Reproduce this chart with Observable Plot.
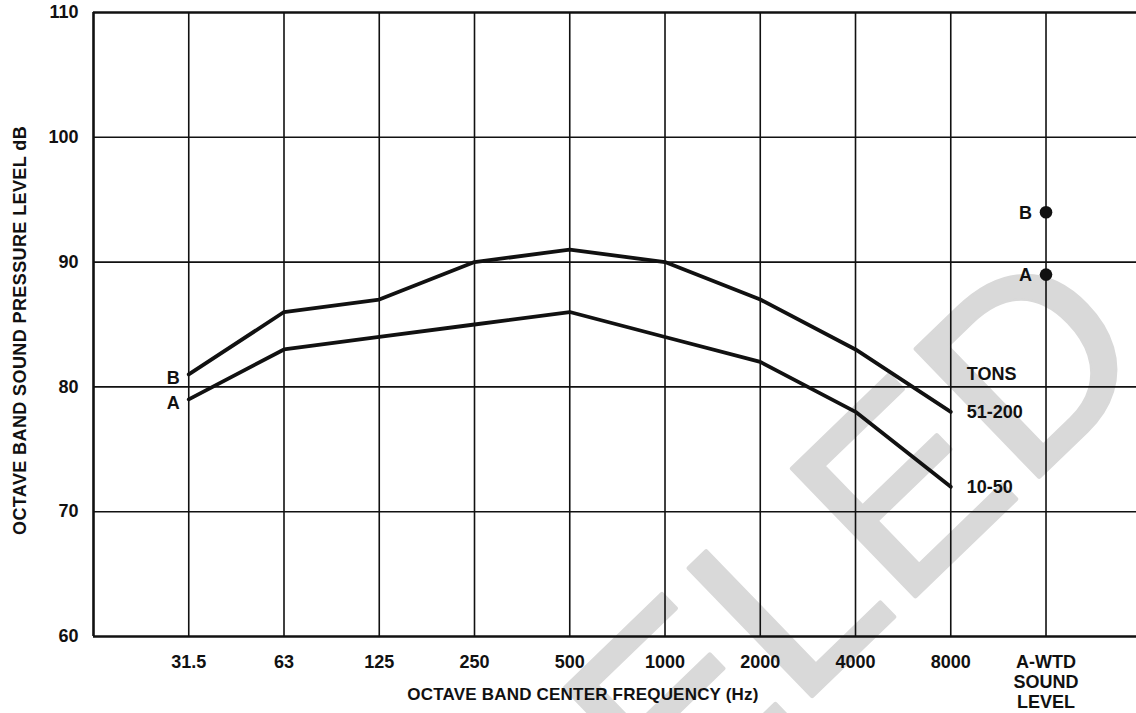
<!DOCTYPE html>
<html>
<head>
<meta charset="utf-8">
<script src="https://cdn.jsdelivr.net/npm/d3@7"></script>
<script src="https://cdn.jsdelivr.net/npm/@observablehq/plot@0.6"></script>
<style>
  html, body { margin: 0; padding: 0; background: #fff; overflow: hidden; }
</style>
</head>
<body>
<div id="chart"></div>
<script>
// ---- data ----
const bandLabels = ["31.5", "63", "125", "250", "500", "1000", "2000", "4000", "8000", "A-WTD\nSOUND\nLEVEL"];
const seriesCodes = ["B", "A"];
const seriesTons = ["51-200", "10-50"];
const levelsB = [81, 86, 87, 90, 91, 90, 87, 83, 78];   // 51-200 tons
const levelsA = [79, 83, 84, 85, 86, 84, 82, 78, 72];   // 10-50 tons
const awtdLevels = [94, 89];                             // B, A
const yTicks = [60, 70, 80, 90, 100, 110];
const tonsHeader = "TONS";
const xTitle = "OCTAVE BAND CENTER FREQUENCY (Hz)";
const yTitle = "OCTAVE BAND SOUND PRESSURE LEVEL dB";
const watermark = "CANCELED";

// ---- build tables ----
const seriesValues = [levelsB, levelsA];
const rows = [];
seriesValues.forEach((vals, s) => vals.forEach((v, i) => rows.push({code: seriesCodes[s], tons: seriesTons[s], i, v})));
const startRows = seriesValues.map((vals, s) => ({code: seriesCodes[s], i: 0, v: vals[0]}));
const endRows = seriesValues.map((vals, s) => ({tons: seriesTons[s], i: vals.length - 1, v: vals[vals.length - 1]}));
const awtdIndex = bandLabels.length - 1;
const awtdRows = awtdLevels.map((v, s) => ({code: seriesCodes[s], i: awtdIndex, v}));
const headerRow = [{text: tonsHeader, i: levelsB.length - 1, v: levelsB[levelsB.length - 1] + 3}];
const bandIdx = d3.range(bandLabels.length);

const ink = "#111";
const font = "Liberation Sans, Arial, Helvetica, sans-serif";

const chart = Plot.plot({
  width: 1136,
  height: 713,
  marginLeft: 93,
  marginRight: 0,
  marginTop: 12,
  marginBottom: 77,
  style: {fontFamily: font, background: "#fff", overflow: "hidden", color: ink},
  x: {type: "linear", domain: [-1, 9.95], axis: null},
  y: {domain: [60, 110], axis: null},
  marks: [
    // watermark behind everything
    Plot.text([watermark], {x: awtdIndex, y: 82, dx: 112, text: d => d, textAnchor: "end", lineAnchor: "bottom",
      rotate: -44, fontSize: 258, fill: "#d9d9d9", stroke: "#d9d9d9", strokeWidth: 4.5, fontFamily: font}),
    // grid
    Plot.ruleX(bandIdx, {stroke: ink, strokeWidth: 1.6}),
    Plot.ruleY(yTicks.slice(1, -1), {stroke: ink, strokeWidth: 1.6}),
    // frame (left, bottom, top)
    Plot.ruleY([yTicks[0], yTicks[yTicks.length - 1]], {stroke: ink, strokeWidth: 2.6}),
    Plot.ruleX([-1], {stroke: ink, strokeWidth: 2.6}),
    // tick labels
    Plot.text(yTicks, {frameAnchor: "left", y: d => d, text: d => String(d), dx: -15, textAnchor: "end",
      fontSize: 18, fontWeight: "bold", fill: ink}),
    Plot.text(bandIdx, {frameAnchor: "bottom", x: d => d, text: i => bandLabels[i], dy: 17, lineAnchor: "top",
      lineHeight: 1.12, fontSize: 18, fontWeight: "bold", fill: ink}),
    // lines
    Plot.line(rows, {x: "i", y: "v", z: "code", stroke: ink, strokeWidth: 3.8, strokeLinejoin: "round"}),
    // series labels
    Plot.text(startRows, {x: "i", y: "v", text: "code", textAnchor: "end", dx: -9, dy: 4, fontSize: 18, fontWeight: "bold", fill: ink}),
    Plot.text(endRows, {x: "i", y: "v", text: "tons", textAnchor: "start", dx: 16, fontSize: 18, fontWeight: "bold", fill: ink}),
    Plot.text(headerRow, {x: "i", y: "v", text: "text", textAnchor: "start", dx: 16, fontSize: 18, fontWeight: "bold", fill: ink}),
    // A-weighted levels
    Plot.dot(awtdRows, {x: "i", y: "v", r: 6.3, fill: ink, stroke: null}),
    Plot.text(awtdRows, {x: "i", y: "v", text: "code", textAnchor: "end", dx: -14, dy: 1, fontSize: 18, fontWeight: "bold", fill: ink}),
    // axis titles
    Plot.text([xTitle], {frameAnchor: "bottom", text: d => d, dx: -32, dy: 58, textAnchor: "middle",
      lineAnchor: "middle", fontSize: 17, fontWeight: "bold", fill: ink}),
    Plot.text([yTitle], {frameAnchor: "left", text: d => d, dx: -73, dy: 6, textAnchor: "middle",
      rotate: -90, lineAnchor: "middle", fontSize: 18, fontWeight: "bold", fill: ink})
  ]
});

d3.select(chart).selectAll("text").filter(function() { return this.textContent === yTitle; })
  .attr("letter-spacing", "0.4px");
d3.select(chart).selectAll("text").filter(function() { return this.textContent === xTitle; })
  .attr("letter-spacing", "0.2px");
document.getElementById("chart").appendChild(chart);
</script>
</body>
</html>
